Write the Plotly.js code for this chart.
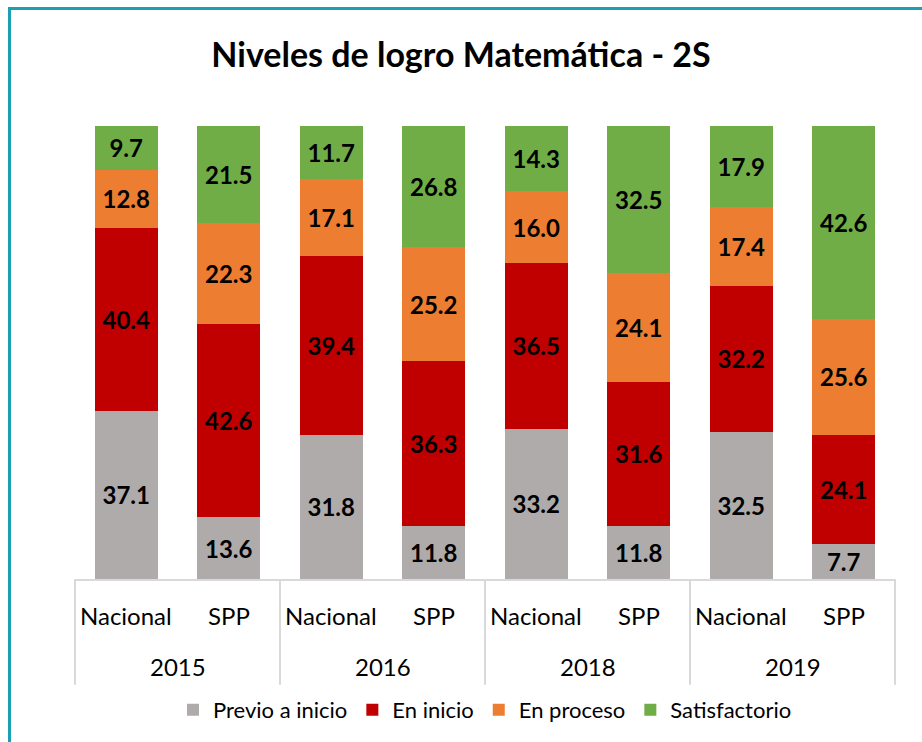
<!DOCTYPE html>
<html>
<head>
<meta charset="utf-8">
<script src="https://cdn.plot.ly/plotly-3.0.1.min.js"></script>
<style>
  html, body { margin: 0; padding: 0; background: #fff; overflow: hidden; }
  #chart { position: absolute; left: 0; top: 0; width: 922px; height: 742px; }
  #frame { position: absolute; left: 8px; top: 7px; width: 1200px; height: 1200px;
           border-left: 3px solid #1a9fb3; border-top: 3px solid #1a9fb3; pointer-events: none; }
</style>
</head>
<body>
<div id="chart"></div>
<div id="frame"></div>
<script>
const years = ["2015", "2015", "2016", "2016", "2018", "2018", "2019", "2019"];
const groups = ["Nacional", "SPP", "Nacional", "SPP", "Nacional", "SPP", "Nacional", "SPP"];

const previo = [37.1, 13.6, 31.8, 11.8, 33.2, 11.8, 32.5, 7.7];
const enInicio = [40.4, 42.6, 39.4, 36.3, 36.5, 31.6, 32.2, 24.1];
const enProceso = [12.8, 22.3, 17.1, 25.2, 16.0, 24.1, 17.4, 25.6];
const satisfactorio = [9.7, 21.5, 11.7, 26.8, 14.3, 32.5, 17.9, 42.6];

const seriesNames = ["Previo a inicio", "En inicio", "En proceso", "Satisfactorio"];
const seriesValues = [previo, enInicio, enProceso, satisfactorio];
const colors = ["#AFABAB", "#C00000", "#ED7D31", "#70AD47"];

const FONT = "Lato, 'Open Sans', sans-serif";

const traces = seriesNames.map((name, i) => ({
  type: "bar",
  name: name,
  x: [years, groups],
  y: seriesValues[i],
  text: seriesValues[i].map(v => v.toFixed(1)),
  texttemplate: "%{text}",
  textposition: "inside",
  insidetextanchor: "middle",
  textangle: 0,
  constraintext: "none",
  textfont: { family: FONT, size: 24, color: "#000000", weight: "bold" },
  marker: { color: colors[i], line: { width: 0 } },
  hoverinfo: "name+y"
}));

// category-axis label annotations (inner: group, outer: year) and dividers
const annotations = [];
groups.forEach((g, i) => {
  annotations.push({
    xref: "x", yref: "paper", x: i, y: -0.0815,
    text: g, showarrow: false, xanchor: "center", yanchor: "middle",
    font: { family: FONT, size: 24, color: "#000000" }
  });
});
const shapes = [];
let start = 0;
for (let i = 1; i <= years.length; i++) {
  if (i === years.length || years[i] !== years[start]) {
    annotations.push({
      xref: "x", yref: "paper", x: (start + i - 1) / 2, y: -0.194,
      text: years[start], showarrow: false, xanchor: "center", yanchor: "middle",
      font: { family: FONT, size: 24, color: "#000000" }
    });
    shapes.push({
      type: "line", xref: "x", yref: "paper",
      x0: start - 0.5, x1: start - 0.5, y0: 0, y1: -0.2335,
      line: { color: "#d9d9d9", width: 2 }, layer: "above"
    });
    start = i;
  }
}
shapes.push({
  type: "line", xref: "x", yref: "paper",
  x0: years.length - 0.5, x1: years.length - 0.5, y0: 0, y1: -0.2335,
  line: { color: "#d9d9d9", width: 2 }, layer: "above"
});

const layout = {
  width: 922,
  height: 742,
  margin: { l: 74, r: 26, t: 126, b: 162 },
  paper_bgcolor: "#ffffff",
  plot_bgcolor: "#ffffff",
  barmode: "stack",
  barnorm: "percent",
  bargap: 0.385,
  title: {
    text: "<b>Niveles de logro Matemática - 2S</b>",
    font: { family: FONT, size: 34, color: "#000000" },
    x: 0.5, xanchor: "center",
    y: 1 - 55 / 742, yanchor: "middle"
  },
  xaxis: {
    type: "multicategory",
    showline: true,
    linecolor: "#d9d9d9",
    linewidth: 2,
    showgrid: false,
    ticks: "",
    showticklabels: false,
    showdividers: false
  },
  yaxis: {
    range: [0, 100],
    visible: false,
    fixedrange: true
  },
  annotations: annotations,
  shapes: shapes,
  legend: {
    orientation: "h",
    x: 0.5, xanchor: "center",
    y: -0.286, yanchor: "middle",
    font: { family: FONT, size: 22, color: "#000000" },
    traceorder: "normal",
    itemwidth: 30
  },
  showlegend: true
};

Plotly.newPlot("chart", traces, layout, { displayModeBar: false, staticPlot: true });
</script>
</body>
</html>
